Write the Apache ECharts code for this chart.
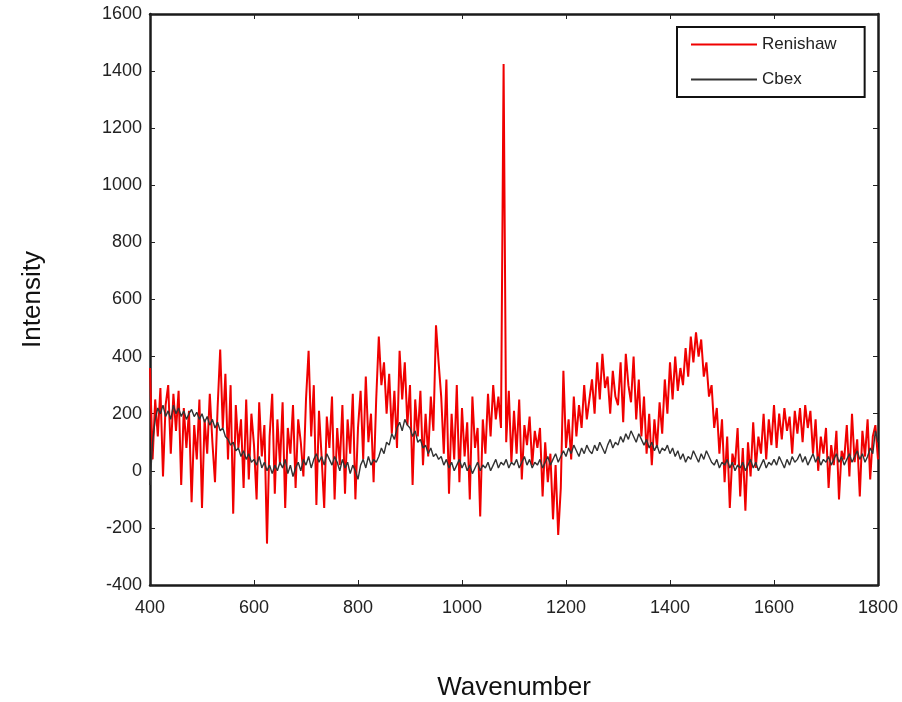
<!DOCTYPE html>
<html>
<head>
<meta charset="utf-8">
<script src="https://cdn.jsdelivr.net/npm/echarts@6/dist/echarts.min.js"></script>
<style>
  html, body { margin: 0; padding: 0; background: #fff; }
  #main { width: 902px; height: 702px; }
</style>
</head>
<body>
<div id="main"></div>
<script>
// sampling grid of the spectra (wavenumber, step 5)
var waveStart = 400;
var waveStep = 5;

// Renishaw spectrum
var renishaw = [
  360, 40, 250, 120, 290, -20, 230, 300, 60, 270,
  140, 280, -50, 220, 80, 210, -110, 160, 40, 250,
  -130, 180, 60, 270, 100, -40, 220, 425, 150, 340,
  40, 300, -150, 230, 80, 180, -60, 250, -30, 200,
  90, -100, 240, 50, 160, -255, 120, 270, -80, 180,
  20, 240, -130, 150, 60, 230, -60, 180, 100, -20,
  250, 420, 120, 300, -120, 210, 50, -130, 190, 80,
  260, -100, 150, 20, 230, -80, 180, 60, 270, -100,
  150, 280, 40, 330, 100, 200, -40, 250, 470, 300,
  380, 200, 340, 130, 280, 80, 420, 250, 380, 160,
  300, -50, 250, 120, 280, 20, 200, 50, 260, 140,
  510, 380, 260, 60, 320, -80, 200, 40, 300, -40,
  220, 50, 170, -100, 260, 80, 150, -160, 180, 60,
  270, 120, 300, 180, 260, 150, 1425, 100, 280, 30,
  210, 60, 250, -30, 160, 90, 190, 20, 140, 80,
  150, -90, 100, -40, 60, -170, 20, -225, -60, 350,
  80, 180, 40, 260, 120, 230, 150, 300, 180, 250,
  320, 200, 380, 250, 410, 290, 330, 200, 350, 260,
  230, 380, 170, 410, 300, 240, 400, 180, 320, 120,
  260, 60, 200, 20, 180, 80, 240, 130, 320, 200,
  380, 250, 400, 280, 360, 300, 430, 330, 470, 380,
  485, 400, 460, 330, 380, 260, 300, 150, 220, 60,
  180, -40, 120, -130, 60, 20, 150, -90, 80, -140,
  100, -20, 170, 10, 120, 60, 200, 40, 180, 90,
  230, 80, 200, 110, 220, 140, 190, 60, 210, 130,
  220, 100, 230, 150, 210, 60, 180, 0, 120, 60,
  150, -60, 90, 20, 140, -100, 70, 40, 160, -20,
  200, 30, 110, -90, 140, 50, 180, -30, 120, 160,
  40
];

// Cbex spectrum
var cbex = [
  -50, 100, 180, 220, 200, 230, 190, 210, 180, 230,
  200, 220, 190, 210, 180, 200, 215, 190, 205, 180,
  200, 170, 190, 160, 180, 150, 170, 140, 150, 120,
  110, 90, 100, 70, 80, 50, 70, 40, 60, 30,
  40, 20, 50, 10, 30, 0, 20, -10, 20, 0,
  30, 10, 40, -10, 20, -20, 10, 30, 0, 40,
  20, 50, 10, 40, 60, 30, 50, 20, 60, 40,
  20, 50, 30, 0, 40, 10, 30, -10, 20, 0,
  -30, 20, 40, 10, 50, 20, 40, 30, 50, 80,
  60, 100, 90, 130, 110, 150, 170, 140, 180, 160,
  150, 120, 140, 100, 110, 80, 90, 60, 80, 50,
  60, 40, 50, 20, 40, 10, 30, 0, 20, 40,
  10, 30, 0, 20, -10, 10, 30, 0, 20, 10,
  30, 0, 20, 40, 10, 30, 20, 40, 10, 30,
  20, 40, 10, 30, 50, 20, 40, 10, 30, 20,
  40, 10, 30, 50, 20, 40, 60, 30, 50, 70,
  50, 80, 60, 90, 70, 50, 80, 60, 90, 70,
  60, 90, 70, 100, 80, 60, 90, 110, 80, 100,
  90, 120, 100, 130, 110, 140, 120, 100, 130, 110,
  90, 110, 80, 100, 70, 90, 60, 80, 70, 90,
  60, 80, 50, 70, 40, 60, 30, 50, 40, 70,
  50, 30, 60, 40, 70, 50, 30, 20, 40, 10,
  30, 20, 40, 10, 30, 0, 20, 10, 30, 0,
  20, 40, 10, 30, 0, 20, 40, 10, 30, 20,
  40, 20, 50, 30, 10, 40, 20, 50, 30, 40,
  60, 30, 50, 20, 40, 60, 30, 50, 20, 40,
  30, 50, 20, 40, 60, 30, 50, 20, 40, 60,
  30, 50, 70, 40, 60, 30, 50, 80, 60, 140,
  100
];

var seriesNames = ['Renishaw', 'Cbex'];
var seriesColors = ['#f00000', '#333333'];

function toPairs(values) {
  return values.map(function (v, i) { return [waveStart + i * waveStep, v]; });
}

var font = 'Liberation Sans, Arial, sans-serif';
var frameLine = { onZero: false, lineStyle: { color: '#1a1a1a', width: 2.5 } };
var plain = function (v) { return String(v); };

var myChart = echarts.init(document.getElementById('main'));
myChart.setOption({
  animation: false,
  backgroundColor: '#fff',
  textStyle: { fontFamily: font },
  grid: { left: 150, right: 24, top: 14, bottom: 117, outerBoundsMode: 'none', containLabel: false },
  legend: {
    orient: 'vertical',
    left: 677,
    top: 27,
    data: [
      { name: seriesNames[0], icon: 'rect' },
      { name: seriesNames[1], icon: 'rect' }
    ],
    backgroundColor: '#fff',
    borderColor: '#111',
    borderWidth: 2,
    borderRadius: 0,
    padding: [9, 28, 9, 14],
    itemGap: 18,
    itemWidth: 66,
    itemHeight: 2,
    textStyle: { fontSize: 17, color: '#222', fontFamily: font, lineHeight: 17 }
  },
  xAxis: [{
    type: 'value',
    min: 400, max: 1800, interval: 200,
    name: 'Wavenumber',
    nameLocation: 'middle',
    nameGap: 90,
    nameTextStyle: { fontSize: 26, color: '#111' },
    axisLine: frameLine,
    axisTick: { inside: true, length: 5, lineStyle: { color: '#222' } },
    axisLabel: { fontSize: 18, color: '#222', margin: 14, formatter: plain },
    splitLine: { show: false }
  }, {
    type: 'value', position: 'top',
    min: 400, max: 1800, interval: 200,
    axisLine: frameLine,
    axisTick: { inside: true, length: 5, lineStyle: { color: '#222' } },
    axisLabel: { show: false },
    splitLine: { show: false }
  }],
  yAxis: [{
    type: 'value',
    min: -400, max: 1600, interval: 200,
    name: 'Intensity',
    nameLocation: 'middle',
    nameGap: 104,
    nameRotate: 90,
    nameTextStyle: { fontSize: 26, color: '#111' },
    axisLine: frameLine,
    axisTick: { inside: true, length: 5, lineStyle: { color: '#222' } },
    axisLabel: { fontSize: 18, color: '#222', margin: 8, formatter: plain },
    splitLine: { show: false }
  }, {
    type: 'value', position: 'right',
    min: -400, max: 1600, interval: 200,
    axisLine: frameLine,
    axisTick: { inside: true, length: 5, lineStyle: { color: '#222' } },
    axisLabel: { show: false },
    splitLine: { show: false }
  }],
  series: [{
    name: seriesNames[0],
    type: 'line',
    symbol: 'none',
    data: toPairs(renishaw),
    lineStyle: { color: seriesColors[0], width: 2 },
    itemStyle: { color: seriesColors[0] },
    z: 2
  }, {
    name: seriesNames[1],
    type: 'line',
    symbol: 'none',
    data: toPairs(cbex),
    lineStyle: { color: seriesColors[1], width: 1.4 },
    itemStyle: { color: seriesColors[1] },
    z: 3
  }]
});
</script>
</body>
</html>
